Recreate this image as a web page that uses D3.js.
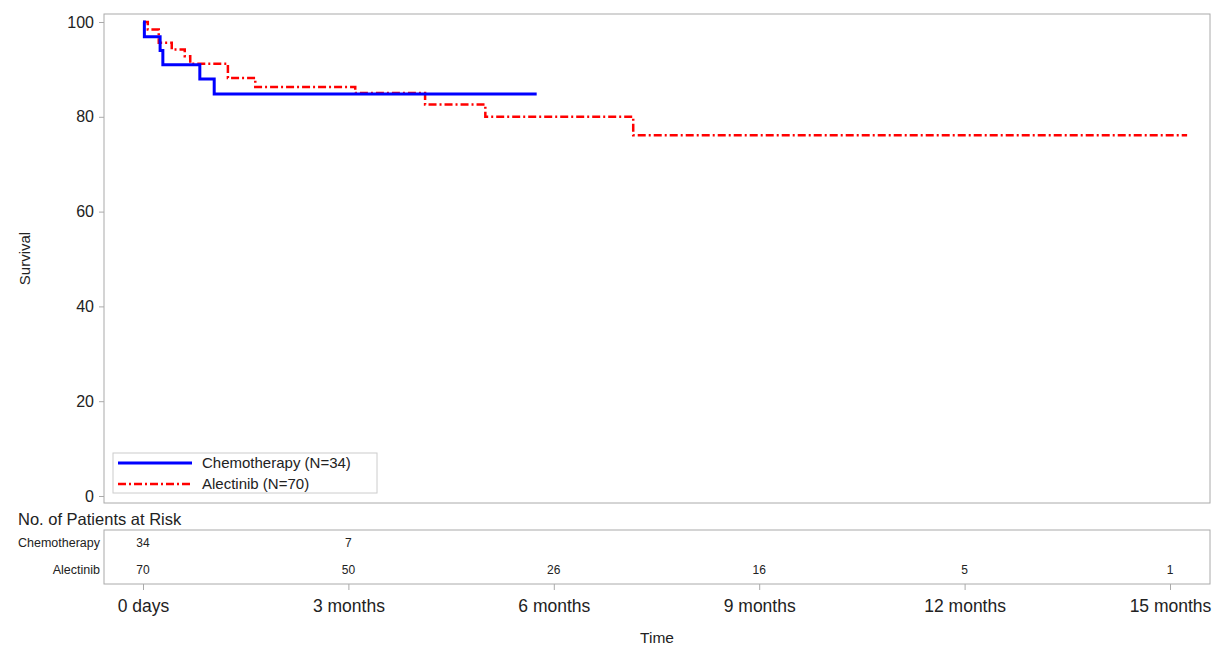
<!DOCTYPE html>
<html>
<head>
<meta charset="utf-8">
<script src="https://cdn.jsdelivr.net/npm/d3@7"></script>
<style>
  body { margin: 0; background: #fff; }
  svg { font-family: "Liberation Sans", Arial, sans-serif; }
</style>
</head>
<body>
<div id="chart"></div>
<script>
// survival steps, time in months, survival in %
var chemoTime = [0, 0.02, 0.25, 0.29, 0.83, 1.04, 5.75];
var chemoSurv = [100, 96.9, 94.0, 91.0, 88.0, 84.8, 84.8];
var alecTime = [0, 0.07, 0.23, 0.42, 0.61, 0.69, 1.24, 1.64, 3.10, 4.12, 5.00, 7.16, 15.25];
var alecSurv = [100, 98.4, 95.6, 94.2, 92.8, 91.2, 88.2, 86.3, 85.0, 82.6, 80.0, 76.1, 76.1];

// axis ticks
var xTicks = [0, 3, 6, 9, 12, 15];
var xTickLabels = ["0 days", "3 months", "6 months", "9 months", "12 months", "15 months"];
var yTicks = [0, 20, 40, 60, 80, 100];

// patients at risk
var riskGroups = ["Chemotherapy", "Alectinib"];
var riskTimes = [0, 3, 6, 9, 12, 15];
var chemoRisk = [34, 7, null, null, null, null];
var alecRisk = [70, 50, 26, 16, 5, 1];

var legendLabels = ["Chemotherapy (N=34)", "Alectinib (N=70)"];

var W = 1220, H = 646;
var frame = {left: 104, top: 14, right: 1210, bottom: 503};

var svg = d3.select("#chart").append("svg")
  .attr("width", W).attr("height", H);

var x = d3.scaleLinear().domain([0, 15]).range([143, 1170]);
var y = d3.scaleLinear().domain([0, 100]).range([496, 22]);

// plot frame
svg.append("rect")
  .attr("x", frame.left).attr("y", frame.top)
  .attr("width", frame.right - frame.left).attr("height", frame.bottom - frame.top)
  .attr("fill", "none").attr("stroke", "#aaa").attr("stroke-width", 1);

// y axis
var yAxis = svg.append("g")
  .attr("transform", "translate(" + frame.left + ",0)")
  .call(d3.axisLeft(y).tickValues(yTicks).tickSize(5).tickPadding(5));
yAxis.select(".domain").remove();
yAxis.selectAll(".tick line").attr("stroke", "#aaa");
yAxis.selectAll(".tick text").attr("font-size", 16).attr("fill", "#222")
  .attr("font-family", "Liberation Sans, Arial, sans-serif");

svg.append("text")
  .attr("transform", "translate(30," + ((frame.top + frame.bottom) / 2) + ") rotate(-90)")
  .attr("text-anchor", "middle")
  .attr("font-size", 15).attr("fill", "#222")
  .text("Survival");

// survival curves
var step = d3.line()
  .x(function(d) { return x(d[0]); })
  .y(function(d) { return y(d[1]); })
  .curve(d3.curveStepAfter);

var alecData = alecTime.map(function(t, i) { return [t, alecSurv[i]]; });
var chemoData = chemoTime.map(function(t, i) { return [t, chemoSurv[i]]; });

svg.append("path")
  .datum(alecData)
  .attr("d", step)
  .attr("fill", "none")
  .attr("stroke", "#ff0000")
  .attr("stroke-width", 2.5)
  .attr("stroke-dasharray", "8,3,2,3");

svg.append("path")
  .datum(chemoData)
  .attr("d", step)
  .attr("fill", "none")
  .attr("stroke", "#0000ff")
  .attr("stroke-width", 3);

// legend
var legend = svg.append("g");
legend.append("rect")
  .attr("x", 113).attr("y", 453).attr("width", 264).attr("height", 40)
  .attr("fill", "#fff").attr("stroke", "#ccc");
var legStyles = [
  {color: "#0000ff", dash: null, width: 3},
  {color: "#ff0000", dash: "8,3,2,3", width: 2.5}
];
legendLabels.forEach(function(lab, i) {
  var ly = 463 + i * 21;
  legend.append("line")
    .attr("x1", 118).attr("x2", 192).attr("y1", ly).attr("y2", ly)
    .attr("stroke", legStyles[i].color)
    .attr("stroke-width", legStyles[i].width)
    .attr("stroke-dasharray", legStyles[i].dash);
  legend.append("text")
    .attr("x", 202).attr("y", ly + 5)
    .attr("font-size", 15).attr("fill", "#222")
    .text(lab);
});

// risk table
svg.append("text")
  .attr("x", 18).attr("y", 525)
  .attr("font-size", 16.5).attr("fill", "#222")
  .text("No. of Patients at Risk");

var table = {top: 530, bottom: 584};
svg.append("rect")
  .attr("x", frame.left).attr("y", table.top)
  .attr("width", frame.right - frame.left).attr("height", table.bottom - table.top)
  .attr("fill", "none").attr("stroke", "#aaa");

var rowY = d3.scalePoint().domain(riskGroups).range([543, 570]);
var riskRows = [chemoRisk, alecRisk];

riskGroups.forEach(function(g, gi) {
  svg.append("text")
    .attr("x", 100).attr("y", rowY(g) + 4)
    .attr("text-anchor", "end")
    .attr("font-size", 12.5).attr("fill", "#222")
    .text(g);
  svg.selectAll(".risk" + gi)
    .data(riskTimes.map(function(t, i) { return {t: t, v: riskRows[gi][i]}; })
      .filter(function(d) { return d.v !== null; }))
    .enter().append("text")
    .attr("class", "risk" + gi)
    .attr("x", function(d) { return x(d.t); })
    .attr("y", rowY(g) + 4)
    .attr("text-anchor", "middle")
    .attr("font-size", 12).attr("fill", "#222")
    .text(function(d) { return d.v; });
});

// x axis under table
var xAxis = svg.append("g")
  .attr("transform", "translate(0," + table.bottom + ")")
  .call(d3.axisBottom(x).tickValues(xTicks).tickSize(6).tickPadding(10)
    .tickFormat(function(d, i) { return xTickLabels[i]; }));
xAxis.select(".domain").remove();
xAxis.selectAll(".tick line").attr("stroke", "#aaa");
xAxis.selectAll(".tick text").attr("font-size", 17.5).attr("fill", "#222")
  .attr("font-family", "Liberation Sans, Arial, sans-serif");

svg.append("text")
  .attr("x", (frame.left + frame.right) / 2).attr("y", 643)
  .attr("text-anchor", "middle")
  .attr("font-size", 15.5).attr("fill", "#222")
  .text("Time");
</script>
</body>
</html>
